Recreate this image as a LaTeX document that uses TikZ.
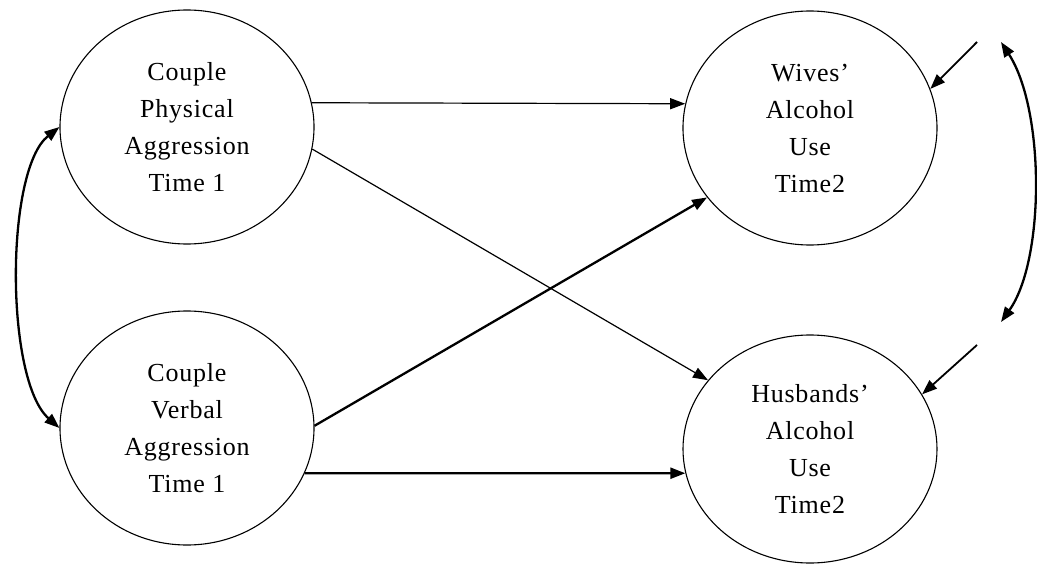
\documentclass[tikz,border=0pt]{standalone}
\usepackage{fontspec}
\setmainfont{Liberation Serif}[LetterSpace=3]
\usetikzlibrary{shapes.geometric,arrows.meta}
\begin{document}
\begin{tikzpicture}[x=1pt,y=-1pt,
  latent/.style={ellipse,draw,line width=1.1pt,minimum width=254pt,minimum height=234pt,
    align=center,inner sep=0pt,font=\fontsize{26}{37}\selectfont},
  path/.style={line width=1.2pt,-{Triangle[length=15pt,width=11pt]}},
  boldpath/.style={line width=2.3pt,-{Triangle[length=15pt,width=11pt]}},
  cov/.style={line width=2.3pt,{Triangle[length=15pt,width=11pt]}-{Triangle[length=15pt,width=11pt]}}]
\useasboundingbox (0,0) rectangle (1037,565);
% latent variables
\node[latent] (phys) at (187,127) {Couple\\Physical\\Aggression\\Time 1};
\node[latent] (verb) at (187,428) {Couple\\Verbal\\Aggression\\Time 1};
\node[latent] (wives) at (810,128) {Wives’\\Alcohol\\Use\\Time2};
\node[latent,minimum height=228pt] (husb) at (810,449) {Husbands’\\Alcohol\\Use\\Time2};
% free ends of the disturbance terms
\coordinate (ew) at (977,42);
\coordinate (eh) at (977,345);
\coordinate (cw) at (1001,42);
\coordinate (ch) at (1001,322);
% structural paths
\draw[path] (phys.11) -- (wives.169);
\draw[path] (phys.-10) -- (husb.146);
\draw[boldpath] (verb.1) -- (wives.214);
\draw[boldpath] (verb.-21) -- (husb.191);
% covariance between predictors
\draw[cov] (phys.180) .. controls (5,170) and (5,380) .. (verb.180);
% disturbances and their covariance
\draw[path,line width=1.8pt] (ew) -- (wives.18);
\draw[path,line width=1.8pt] (eh) -- (husb.26);
\draw[cov] (cw) .. controls (1045,110) and (1045,260) .. (ch);
\end{tikzpicture}
\end{document}
